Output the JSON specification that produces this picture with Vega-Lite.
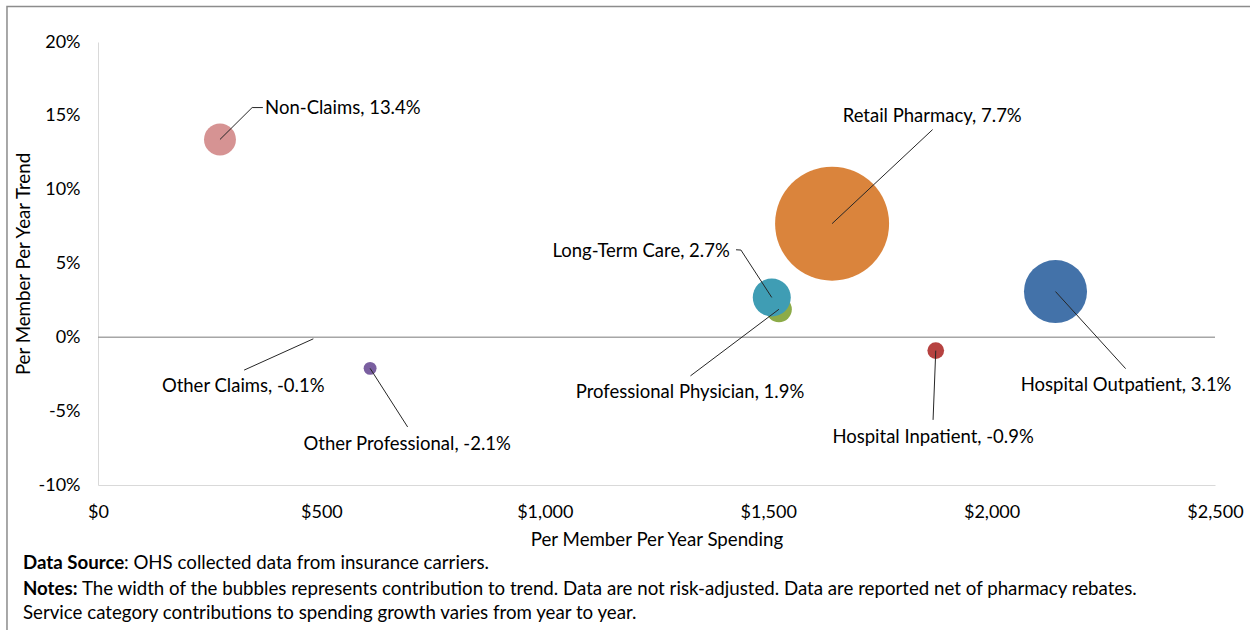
{
  "$schema": "https://vega.github.io/schema/vega-lite/v6.json",
  "width": 1117,
  "height": 443,
  "autosize": {"type": "none"},
  "padding": {"left": 98, "top": 42, "right": 35, "bottom": 145},
  "background": "white",
  "config": {
    "font": "Lato",
    "view": {"stroke": null},
    "axis": {
      "labelFont": "Lato",
      "labelFontSize": 18,
      "labelColor": "#000000",
      "labelFlush": false,
      "labelOverlap": false,
      "titleFont": "Lato",
      "titleFontSize": 18.7,
      "titleFontWeight": "normal",
      "titleColor": "#000000",
      "grid": false,
      "ticks": false,
      "tickSize": 0,
      "domainColor": "#d9d9d9",
      "domainWidth": 1
    },
    "text": {"font": "Lato", "fontSize": 18.5, "color": "#000000"}
  },
  "datasets": {
    "bubbles": [
      {"category": "Non-Claims", "spending": 273, "trend": 13.4, "contribution": 0.42, "label": "Non-Claims, 13.4%", "labelX": 374, "labelY": 15.56},
      {"category": "Other Claims", "spending": 482, "trend": -0.1, "contribution": 0.0, "label": "Other Claims, -0.1%", "labelX": 325, "labelY": -3.29},
      {"category": "Other Professional", "spending": 609, "trend": -2.1, "contribution": 0.17, "label": "Other Professional, -2.1%", "labelX": 692, "labelY": -7.2},
      {"category": "Professional Physician", "spending": 1524, "trend": 1.9, "contribution": 0.34, "label": "Professional Physician, 1.9%", "labelX": 1325, "labelY": -3.69},
      {"category": "Long-Term Care", "spending": 1508, "trend": 2.7, "contribution": 0.5, "label": "Long-Term Care, 2.7%", "labelX": 1414, "labelY": 5.86},
      {"category": "Retail Pharmacy", "spending": 1643, "trend": 7.7, "contribution": 1.5, "label": "Retail Pharmacy, 7.7%", "labelX": 1867, "labelY": 14.97},
      {"category": "Hospital Inpatient", "spending": 1875, "trend": -0.9, "contribution": 0.22, "label": "Hospital Inpatient, -0.9%", "labelX": 1869, "labelY": -6.75},
      {"category": "Hospital Outpatient", "spending": 2143, "trend": 3.1, "contribution": 0.83, "label": "Hospital Outpatient, 3.1%", "labelX": 2301, "labelY": -3.22}
    ],
    "leaders": [
      {"category": "Non-Claims", "seq": 1, "lx": 273, "ly": 13.4},
      {"category": "Non-Claims", "seq": 2, "lx": 345, "ly": 15.56},
      {"category": "Non-Claims", "seq": 3, "lx": 369, "ly": 15.56},
      {"category": "Other Claims", "seq": 1, "lx": 482, "ly": -0.1},
      {"category": "Other Claims", "seq": 2, "lx": 327, "ly": -2.22},
      {"category": "Other Professional", "seq": 1, "lx": 609, "ly": -2.1},
      {"category": "Other Professional", "seq": 2, "lx": 693, "ly": -6.07},
      {"category": "Long-Term Care", "seq": 1, "lx": 1508, "ly": 2.7},
      {"category": "Long-Term Care", "seq": 2, "lx": 1439, "ly": 5.91},
      {"category": "Long-Term Care", "seq": 3, "lx": 1428, "ly": 5.93},
      {"category": "Professional Physician", "seq": 1, "lx": 1524, "ly": 1.9},
      {"category": "Professional Physician", "seq": 2, "lx": 1326, "ly": -2.61},
      {"category": "Retail Pharmacy", "seq": 1, "lx": 1643, "ly": 7.7},
      {"category": "Retail Pharmacy", "seq": 2, "lx": 1868, "ly": 14.07},
      {"category": "Hospital Inpatient", "seq": 1, "lx": 1875, "ly": -0.9},
      {"category": "Hospital Inpatient", "seq": 2, "lx": 1869, "ly": -5.59},
      {"category": "Hospital Outpatient", "seq": 1, "lx": 2143, "ly": 3.1},
      {"category": "Hospital Outpatient", "seq": 2, "lx": 2300, "ly": -2.12}
    ],
    "notes": [
      {"id": "src_label", "text": "Data Source"},
      {"id": "src_text", "text": ": OHS collected data from insurance carriers."},
      {"id": "notes_label", "text": "Notes:"},
      {"id": "notes_text", "text": "The width of the bubbles represents contribution to trend. Data are not risk-adjusted. Data are reported net of pharmacy rebates."},
      {"id": "notes_text2", "text": "Service category contributions to spending growth varies from year to year."}
    ],
    "frame": [{"name": "border"}]
  },
  "layer": [
    {
      "data": {"name": "frame"},
      "mark": {"type": "rect", "filled": false, "stroke": "#8c8c8c", "strokeWidth": 1.5, "clip": false},
      "encoding": {
        "x": {"datum": -203.7, "type": "quantitative"},
        "x2": {"datum": 2601},
        "y": {"datum": 22.4, "type": "quantitative"},
        "y2": {"datum": -20.6}
      }
    },
    {
      "data": {"values": [{"baseline": 0}]},
      "mark": {"type": "rule", "color": "#a6a6a6", "strokeWidth": 1.5},
      "encoding": {
        "y": {"field": "baseline", "type": "quantitative", "scale": {"domain": [-10, 20], "nice": false, "zero": false}, "title": "Per Member Per Year Trend"}
      }
    },
    {
      "data": {"name": "bubbles"},
      "mark": {"type": "circle", "opacity": 1, "strokeWidth": 0},
      "encoding": {
        "x": {
          "field": "spending", "type": "quantitative",
          "scale": {"domain": [0, 2500], "nice": false},
          "title": "Per Member Per Year Spending",
          "axis": {"values": [0, 500, 1000, 1500, 2000, 2500], "labelExpr": "'$' + format(datum.value, ',')", "labelPadding": 18, "titlePadding": 9, "domainColor": "#d9d9d9"}
        },
        "y": {
          "field": "trend", "type": "quantitative",
          "scale": {"domain": [-10, 20], "nice": false, "zero": false},
          "title": "Per Member Per Year Trend",
          "axis": {"values": [-10, -5, 0, 5, 10, 15, 20], "labelExpr": "datum.value + '%'", "labelPadding": 18, "titlePadding": 5}
        },
        "size": {"field": "contribution", "type": "quantitative", "scale": {"type": "pow", "exponent": 2, "domain": [0, 1.5], "range": [0, 12996]}, "legend": null},
        "color": {
          "field": "category", "type": "nominal", "legend": null,
          "scale": {
            "domain": ["Non-Claims", "Other Claims", "Other Professional", "Professional Physician", "Long-Term Care", "Retail Pharmacy", "Hospital Inpatient", "Hospital Outpatient"],
            "range": ["#d69393", "#888888", "#7a5fa0", "#8cab48", "#3f9db4", "#da843c", "#b64240", "#4372a9"]
          }
        },
        "order": {"field": "trend", "type": "quantitative", "sort": "ascending"}
      }
    },
    {
      "data": {"name": "leaders"},
      "mark": {"type": "line", "color": "#262626", "strokeWidth": 1},
      "encoding": {
        "x": {"field": "lx", "type": "quantitative", "title": "Per Member Per Year Spending"},
        "y": {"field": "ly", "type": "quantitative", "title": "Per Member Per Year Trend"},
        "detail": {"field": "category"},
        "order": {"field": "seq", "type": "quantitative"}
      }
    },
    {
      "data": {"name": "bubbles"},
      "transform": [{"filter": "datum.category == 'Non-Claims'"}],
      "mark": {"type": "text", "align": "left", "baseline": "middle"},
      "encoding": {
        "x": {"field": "labelX", "type": "quantitative", "title": "Per Member Per Year Spending"},
        "y": {"field": "labelY", "type": "quantitative", "title": "Per Member Per Year Trend"},
        "text": {"field": "label"}
      }
    },
    {
      "data": {"name": "bubbles"},
      "transform": [{"filter": "datum.category == 'Long-Term Care'"}],
      "mark": {"type": "text", "align": "right", "baseline": "middle"},
      "encoding": {
        "x": {"field": "labelX", "type": "quantitative", "title": "Per Member Per Year Spending"},
        "y": {"field": "labelY", "type": "quantitative", "title": "Per Member Per Year Trend"},
        "text": {"field": "label"}
      }
    },
    {
      "data": {"name": "bubbles"},
      "transform": [{"filter": "datum.category != 'Non-Claims' && datum.category != 'Long-Term Care'"}],
      "mark": {"type": "text", "align": "center", "baseline": "middle"},
      "encoding": {
        "x": {"field": "labelX", "type": "quantitative", "title": "Per Member Per Year Spending"},
        "y": {"field": "labelY", "type": "quantitative", "title": "Per Member Per Year Trend"},
        "text": {"field": "label"}
      }
    },
    {
      "data": {"name": "notes"},
      "transform": [{"filter": "datum.id == 'src_label'"}],
      "mark": {"type": "text", "align": "left", "baseline": "middle", "fontWeight": "bold", "fontSize": 18.7},
      "encoding": {
        "x": {"datum": -168, "type": "quantitative"},
        "y": {"datum": -15.29, "type": "quantitative"},
        "text": {"field": "text"}
      }
    },
    {
      "data": {"name": "notes"},
      "transform": [{"filter": "datum.id == 'src_text'"}],
      "mark": {"type": "text", "align": "left", "baseline": "middle", "dx": 101, "fontSize": 18.7},
      "encoding": {
        "x": {"datum": -168, "type": "quantitative"},
        "y": {"datum": -15.29, "type": "quantitative"},
        "text": {"field": "text"}
      }
    },
    {
      "data": {"name": "notes"},
      "transform": [{"filter": "datum.id == 'notes_label'"}],
      "mark": {"type": "text", "align": "left", "baseline": "middle", "fontWeight": "bold", "fontSize": 18.7},
      "encoding": {
        "x": {"datum": -168, "type": "quantitative"},
        "y": {"datum": -17.05, "type": "quantitative"},
        "text": {"field": "text"}
      }
    },
    {
      "data": {"name": "notes"},
      "transform": [{"filter": "datum.id == 'notes_text'"}],
      "mark": {"type": "text", "align": "left", "baseline": "middle", "dx": 59, "fontSize": 18.7},
      "encoding": {
        "x": {"datum": -168, "type": "quantitative"},
        "y": {"datum": -17.05, "type": "quantitative"},
        "text": {"field": "text"}
      }
    },
    {
      "data": {"name": "notes"},
      "transform": [{"filter": "datum.id == 'notes_text2'"}],
      "mark": {"type": "text", "align": "left", "baseline": "middle", "fontSize": 18.7},
      "encoding": {
        "x": {"datum": -168, "type": "quantitative"},
        "y": {"datum": -18.68, "type": "quantitative"},
        "text": {"field": "text"}
      }
    }
  ]
}
